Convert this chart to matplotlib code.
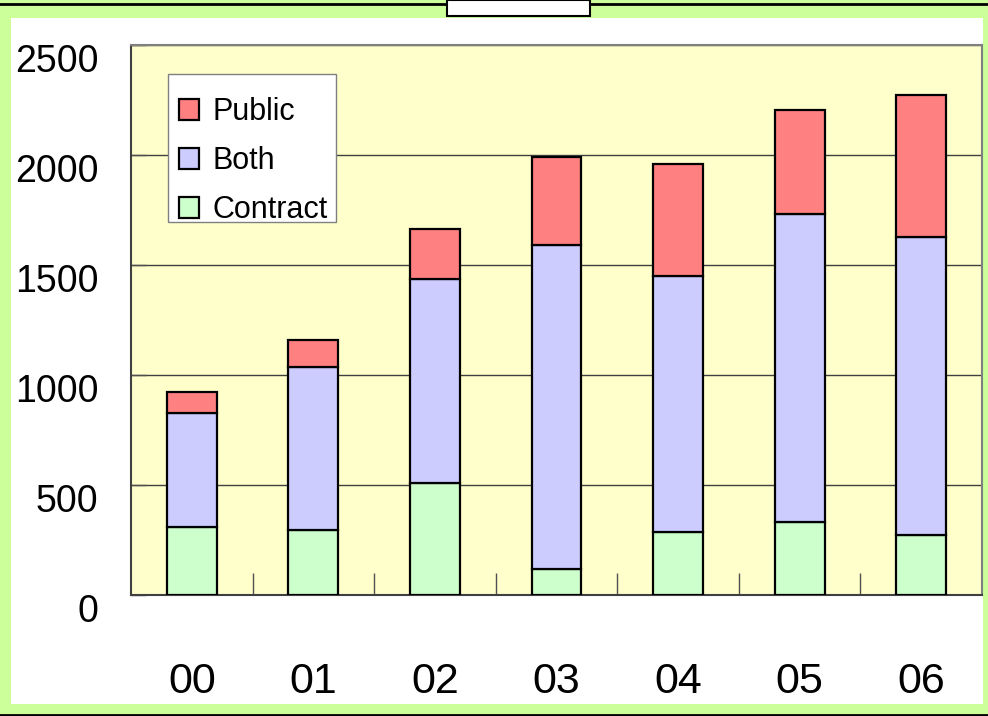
import matplotlib
matplotlib.use("Agg")
import matplotlib.pyplot as plt
from matplotlib.patches import Rectangle
from matplotlib.lines import Line2D
import matplotlib.transforms as mtransforms
import numpy as np

years = ["00", "01", "02", "03", "04", "05", "06"]
contract = [309, 295, 509, 118, 286, 332, 273]
both = [518, 741, 927, 1473, 1164, 1400, 1354]
public = [96, 123, 228, 400, 509, 473, 646]
yticks = [0, 500, 1000, 1500, 2000, 2500]

W, H = 988, 716
fig = plt.figure(figsize=(W / 100, H / 100), dpi=100, facecolor="#CCFF99")

def fx(px):
    return px / W

def fy(py):
    return 1 - py / H

# white panel
fig.patches.append(Rectangle((fx(11), fy(704)), fx(983) - fx(11), fy(18) - fy(704),
                             transform=fig.transFigure, facecolor="white", edgecolor="none", zorder=-5))
# top line and bottom line
fig.lines.append(Line2D([0, 1], [fy(4), fy(4)], transform=fig.transFigure, color="black", lw=2, zorder=1))
fig.lines.append(Line2D([0, 1], [fy(715), fy(715)], transform=fig.transFigure, color="black", lw=2, zorder=1))
# top white box
fig.patches.append(Rectangle((fx(447), fy(16)), fx(590) - fx(447), fy(0) - fy(16),
                             transform=fig.transFigure, facecolor="white", edgecolor="black", lw=1.5, zorder=3))

ax = fig.add_axes([fx(131), fy(595), fx(982) - fx(131), fy(45) - fy(595)])
ax.set_zorder(2)
ax.set_facecolor("#FFFFCC")

x = np.arange(len(years))
bw = 0.41
c = np.array(contract)
b = np.array(both)
p = np.array(public)
ax.bar(x, c, bw, color="#CCFFCC", edgecolor="black", lw=1.6, label="Contract", zorder=3)
ax.bar(x, b, bw, bottom=c, color="#CCCCFF", edgecolor="black", lw=1.6, label="Both", zorder=3)
ax.bar(x, p, bw, bottom=c + b, color="#FF8080", edgecolor="black", lw=1.6, label="Public", zorder=3)

ax.set_xlim(-0.5, len(years) - 0.5)
ax.set_ylim(0, 2500)
ax.set_yticks(yticks)
ax.set_xticks(x)
ax.set_xticklabels(years)
ax.set_xticks(np.arange(0.5, len(years) - 0.5, 1), minor=True)
ax.yaxis.grid(True, color="#404040", lw=1, zorder=1)
ax.set_axisbelow(True)

fam = ["Liberation Sans", "DejaVu Sans"]
ax.tick_params(axis="y", direction="in", length=11, color="#505050", width=1, pad=23.5)
ax.tick_params(axis="x", which="major", length=0, pad=48)
ax.tick_params(axis="x", which="minor", direction="in", length=16, color="#505050", width=1)
for lab in ax.get_yticklabels():
    lab.set_fontfamily(fam)
    lab.set_fontsize(27)
    lab.set_transform(lab.get_transform() + mtransforms.ScaledTranslation(0, -13 / 100, fig.dpi_scale_trans))
for lab in ax.get_xticklabels():
    lab.set_fontfamily(fam)
    lab.set_fontsize(31)

for s in ["left", "bottom"]:
    ax.spines[s].set_color("#404040")
    ax.spines[s].set_linewidth(1.5)
for s in ["top", "right"]:
    ax.spines[s].set_color("#808080")
    ax.spines[s].set_linewidth(1.5)

# legend box (clips the last entry like the original)
box = Rectangle((0.0435, 0.678), 0.2409 - 0.0435, 0.947 - 0.678, transform=ax.transAxes,
                facecolor="white", edgecolor="#808080", lw=1, zorder=4)
ax.add_patch(box)

h, l = ax.get_legend_handles_labels()
leg = ax.legend(h[::-1], l[::-1], loc="upper left", bbox_to_anchor=(0.0564, 0.905),
                frameon=False, prop={"family": fam, "size": 22},
                handlelength=0.65, handleheight=0.65, handletextpad=0.45, labelspacing=0.62,
                borderpad=0, borderaxespad=0)
leg.set_zorder(5)
for t in leg.get_texts():
    t.set_clip_path(box)
for hp in leg.legend_handles:
    hp.set_clip_path(box)

fig.savefig("out.png", dpi=100, facecolor=fig.get_facecolor())
